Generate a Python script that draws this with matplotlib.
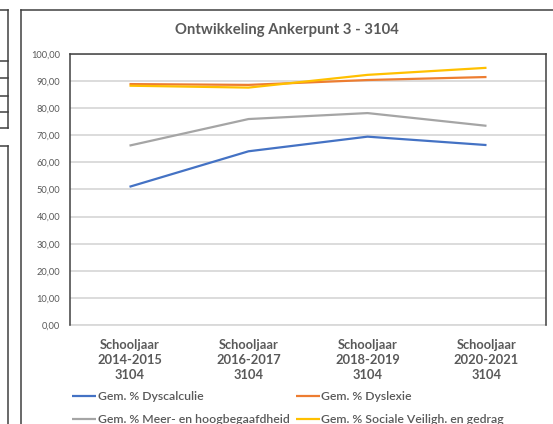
import matplotlib.pyplot as plt
from matplotlib.lines import Line2D

plt.rcParams['font.family'] = ['Lato', 'DejaVu Sans']

# data
years = ['2014-2015', '2016-2017', '2018-2019', '2020-2021']
school = '3104'
dyscalculie = [51.0, 64.1, 69.5, 66.4]
dyslexie = [88.9, 88.6, 90.4, 91.5]
begaafdheid = [66.2, 76.0, 78.2, 73.5]
veiligheid = [88.3, 87.6, 92.3, 94.9]

labels = ['Gem. % Dyscalculie', 'Gem. % Dyslexie',
          'Gem. % Meer- en hoogbegaafdheid', 'Gem. % Sociale Veiligh. en gedrag']
colors = ['#4472C4', '#ED7D31', '#A5A5A5', '#FFC000']

W, H = 553, 424
fig = plt.figure(figsize=(W / 100, H / 100), dpi=100)
ax = fig.add_axes([70 / W, 1 - 325 / H, 476 / W, 271 / H])

x = list(range(len(years)))
series = [dyscalculie, dyslexie, begaafdheid, veiligheid]
handles = []
for vals, c, lab in zip(series, colors, labels):
    h, = ax.plot(x, vals, color=c, lw=1.6, label=lab, solid_capstyle='butt')
    handles.append(h)

ax.set_xlim(-0.5, 3.5)
ax.set_ylim(0, 100)
ax.set_yticks(range(0, 101, 10))
ax.set_yticklabels(['%d,00' % v for v in range(0, 101, 10)], fontsize=6.7, color='#595959')
ax.set_xticks(x)
ax.set_xticklabels(['Schooljaar\n%s\n%s' % (y, school) for y in years],
                   fontsize=9.3, fontweight='bold', color='#595959', linespacing=1.3)
ax.tick_params(length=0, pad=7)
ax.tick_params(axis='x', pad=10)
ax.grid(axis='y', color='#D9D9D9', lw=1.3)
ax.set_axisbelow(True)
for s in ['left', 'top', 'right']:
    ax.spines[s].set_color('#404040')
    ax.spines[s].set_linewidth(1.1)
ax.spines['bottom'].set_visible(False)
ax.axhline(0, color='#D9D9D9', lw=1.3, clip_on=False, zorder=0.5)

fig.text(287 / W, 1 - 30 / H, 'Ontwikkeling Ankerpunt 3 - 3104', ha='center', va='center',
         fontsize=10.7, fontweight='bold', color='#595959')

# legend, two columns
order = [0, 2, 1, 3]
leg = fig.legend([handles[i] for i in order], [labels[i] for i in order], ncol=2,
                 loc='upper left', bbox_to_anchor=(72 / W, 1 - 391 / H), frameon=False,
                 prop={'size': 8.8, 'weight': 'semibold'},
                 handlelength=2.0, handletextpad=0.1, columnspacing=0.5,
                 labelspacing=1.0, borderpad=0, borderaxespad=0)
for t in leg.get_texts():
    t.set_color('#595959')

# page frame and bits of the document around the chart
def px_line(xs, ys, lw=1.1, c='#404040'):
    fig.add_artist(Line2D([v / W for v in xs], [1 - v / H for v in ys],
                          color=c, lw=lw, transform=fig.transFigure))

px_line([21, 21], [10, 424])
px_line([21, 553], [10, 10])
px_line([8, 8], [10, 128])
for yy in [10, 61, 78, 96, 112, 128]:
    px_line([0, 8], [yy, yy])
px_line([0, 8], [146, 146])
px_line([8, 8], [146, 424])

fig.savefig('out.png', dpi=100)
